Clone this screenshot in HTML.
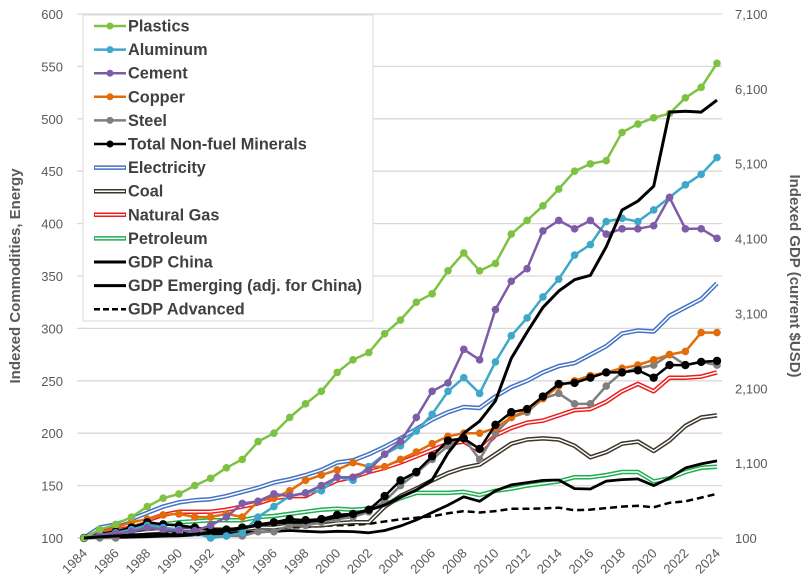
<!DOCTYPE html>
<html><head><meta charset="utf-8"><style>
body{margin:0;background:#fff;}
svg{display:block;font-family:"Liberation Sans",Arial,sans-serif;}
</style></head><body>
<svg id="chart" width="810" height="588" viewBox="0 0 810 588" xmlns="http://www.w3.org/2000/svg">
<g id="grid"></g><g id="axes"></g><g id="series"></g><g id="legend"></g>
</svg>
<script>
const years=[];for(let y=1984;y<=2024;y++)years.push(y);
const leftTicks=[100,150,200,250,300,350,400,450,500,550,600];
const rightTicks=[100,1100,2100,3100,4100,5100,6100,7100];
const plastics=[100,108,113,120,130,138,142,150,157,167,175,192,200,215,228,240,258,270,277,295,308,325,333,355,372,355,362,390,403,417,433,450,457,460,487,495,501,505,520,530,553];
const aluminum=[100,103,105,108,112,110,108,105,100,102,105,120,130,140,143,145,158,155,168,180,188,202,218,240,253,238,268,293,310,330,347,370,380,402,405,402,413,425,437,447,463];
const cement=[100,103,104,106,110,108,107,107,112,120,133,135,142,140,143,150,158,158,165,180,192,215,240,248,280,270,318,345,357,393,403,395,403,390,395,395,398,425,395,395,386];
const copper=[100,105,110,115,118,122,123,120,120,123,120,135,138,145,155,160,165,172,168,168,175,182,190,197,200,200,205,215,222,233,245,250,255,258,262,265,270,275,278,296,296];
const steel=[100,100,100,108,113,113,112,110,100,102,102,106,106,112,112,115,118,120,125,135,150,162,175,188,195,175,200,215,220,233,238,228,228,245,258,262,265,275,265,268,265];
const totalMinerals=[100,104,106,110,115,113,112,110,108,108,110,113,115,118,117,118,122,123,127,140,155,163,178,193,195,185,208,220,223,235,247,248,253,258,258,260,253,265,265,268,269];
const electricity=[100,110,113,118,124,130,134,136,137,140,144,148,153,156,160,165,172,174,180,187,195,204,213,220,225,224,235,244,250,258,264,267,275,283,295,298,297,312,320,328,343];
const coal=[100,103,104,104,106,107,108,108,108,108,108,110,110,112,112,112,114,115,115,130,140,147,155,162,167,170,180,190,194,195,194,188,177,182,190,192,183,193,207,215,217];
const naturalGas=[100,105,110,113,117,122,125,125,125,127,130,133,138,140,140,148,155,158,163,167,172,178,184,190,192,183,198,205,210,212,217,222,223,230,240,247,240,253,253,254,258];
const petroleum=[100,103,105,108,110,113,115,116,117,117,117,120,121,123,125,127,128,127,128,132,138,143,143,143,144,141,145,147,150,152,154,158,158,160,163,163,154,157,163,167,168];
const gdpChina=[100,115,127,140,150,150,140,150,167,200,234,270,300,310,314,340,380,420,474,540,647,740,875,1235,1500,1660,1930,2500,2850,3180,3400,3550,3610,3990,4480,4600,4800,5790,5800,5790,5950];
const gdpEmerging=[100,105,108,112,118,125,130,140,150,160,170,180,190,200,190,180,190,185,170,200,260,340,440,540,650,590,730,810,840,870,875,760,755,860,880,890,800,900,1035,1090,1130];
const gdpAdvanced=[100,110,125,140,155,165,175,185,195,200,210,230,235,240,245,260,270,275,290,320,350,370,390,430,460,440,460,490,490,495,505,470,480,500,520,530,510,570,590,640,690];

const NS='http://www.w3.org/2000/svg';
const X0=84,X1=717,Y0=538,Y1=14;
const xS=y=>X0+(y-1984)*(X1-X0)/40;
const yL=v=>Y0-(v-100)*(Y0-Y1)/500;
const yR=v=>Y0-(v-100)*(Y0-Y1)/7000;
function mk(tag,attrs,parent){const e=document.createElementNS(NS,tag);for(const k in attrs)e.setAttribute(k,attrs[k]);parent.appendChild(e);return e;}
const grid=document.getElementById('grid'),axes=document.getElementById('axes'),ser=document.getElementById('series'),leg=document.getElementById('legend');

leftTicks.forEach(t=>{
  const l=mk('line',{x1:77,x2:722,y1:yL(t),y2:yL(t),stroke:'#d9d9d9','stroke-width':1.3},grid);
  
  
  const tx=mk('text',{x:63,y:yL(t)+5,'text-anchor':'end','font-size':13,fill:'#595959'},axes);
  tx.textContent=t;
  
  
});
rightTicks.forEach(t=>{
  const tx=mk('text',{x:735,y:yR(t)+5,'font-size':13,fill:'#595959'},axes);
  tx.textContent=t.toLocaleString('en-US');
  
  
});
years.forEach(y=>{if((y-1984)%2)return;
  const tx=mk('text',{x:xS(y)+4,y:554,'text-anchor':'end','font-size':13,fill:'#595959',transform:`rotate(-45 ${xS(y)+4} 554)`},axes);
  tx.textContent=y;
  
  
});
let t1=mk('text',{x:0,y:0,'font-size':15,'font-weight':'bold',fill:'#595959','text-anchor':'middle',transform:'translate(20 276) rotate(-90)'},axes);
t1.textContent='Indexed Commodities, Energy';


let t2=mk('text',{x:0,y:0,'font-size':15,'font-weight':'bold',fill:'#595959','text-anchor':'middle',transform:'translate(790 276) rotate(90)'},axes);
t2.textContent='Indexed GDP (current $USD)';



function pts(data,ys){return data.map((v,i)=>xS(years[i]).toFixed(1)+','+ys(v).toFixed(1)).join(' ');}
function dbl(data,color,name){
  const g=mk('g',{},ser);
  
  
  mk('polyline',{points:pts(data,yL),fill:'none',stroke:color,'stroke-width':4.5,'stroke-linejoin':'round'},g);
  mk('polyline',{points:pts(data,yL),fill:'none',stroke:'#fff','stroke-width':1.5,'stroke-linejoin':'round'},g);
}
function solid(data,color,w,dash,name){
  const p=mk('polyline',{points:pts(data,yR),fill:'none',stroke:color,'stroke-width':w,'stroke-linejoin':'round'},ser);
  if(dash)p.setAttribute('stroke-dasharray',dash);
  
  
}
function mark(data,color,r,name){
  const g=mk('g',{},ser);
  
  
  mk('polyline',{points:pts(data,yL),fill:'none',stroke:color,'stroke-width':2.5,'stroke-linejoin':'round'},g);
  data.forEach((v,i)=>{const c=mk('circle',{cx:xS(years[i]),cy:yL(v),r:r,fill:color},g);
    
    });
}
solid(gdpAdvanced,'#000',2.5,'7,4','gdp-advanced-line');
dbl(petroleum,'#1fae50','petroleum-line');
dbl(coal,'#3d3629','coal-line');
dbl(naturalGas,'#ee1c1c','natural-gas-line');
dbl(electricity,'#4472c4','electricity-line');
solid(gdpEmerging,'#000',2.8,null,'gdp-emerging-line');
mark(steel,'#7f7f7f',3.8,'steel-series');
mark(copper,'#e36c0a',3.8,'copper-series');
mark(totalMinerals,'#000',4.2,'total-minerals-series');
mark(aluminum,'#3ea8c8',3.8,'aluminum-series');
mark(cement,'#7e5ca8',3.8,'cement-series');
mark(plastics,'#7dc243',3.8,'plastics-series');
solid(gdpChina,'#000',3,null,'gdp-china-line');

// legend
const lb=mk('rect',{x:83,y:15,width:290,height:306,fill:'#fff',stroke:'#d9d9d9','stroke-width':1},leg);


const L=[['Plastics','#7dc243','m'],['Aluminum','#3ea8c8','m'],['Cement','#7e5ca8','m'],['Copper','#e36c0a','m'],['Steel','#7f7f7f','m'],['Total Non-fuel Minerals','#000','m'],['Electricity','#4472c4','d'],['Coal','#3d3629','d'],['Natural Gas','#ee1c1c','d'],['Petroleum','#1fae50','d'],['GDP China','#000','s'],['GDP Emerging (adj. for China)','#000','s'],['GDP Advanced','#000','k']];
L.forEach((e,i)=>{
  const y=26+i*23.6;
  const g=mk('g',{},leg);
  
  
  if(e[2]==='m'){mk('line',{x1:94,x2:126,y1:y,y2:y,stroke:e[1],'stroke-width':2.5},g);mk('circle',{cx:110,cy:y,r:3.5,fill:e[1]},g);}
  else if(e[2]==='d'){mk('line',{x1:94,x2:126,y1:y,y2:y,stroke:e[1],'stroke-width':4.5},g);mk('line',{x1:95,x2:125,y1:y,y2:y,stroke:'#fff','stroke-width':1.5},g);}
  else if(e[2]==='s'){mk('line',{x1:94,x2:126,y1:y,y2:y,stroke:'#000','stroke-width':3},g);}
  else {mk('line',{x1:94,x2:126,y1:y,y2:y,stroke:'#000','stroke-width':2.5,'stroke-dasharray':'6,3'},g);}
  const t=mk('text',{x:128,y:y+5.5,'font-size':16.3,'font-weight':'bold',fill:'#404040'},g);
  t.textContent=e[0];
});
</script>
</body></html>
